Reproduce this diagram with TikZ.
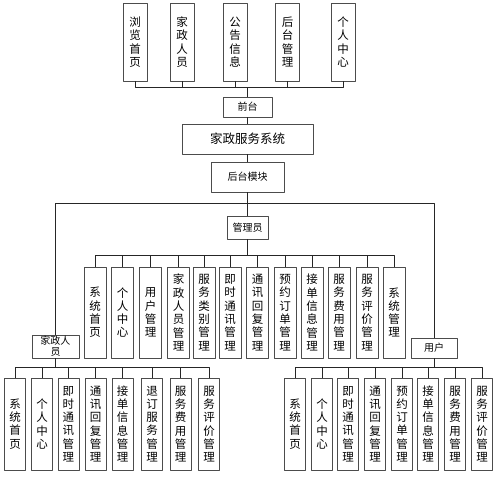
\documentclass[tikz,border=0pt]{standalone}
\usepackage{fontspec}
\setmainfont{Noto Sans CJK SC}
\tikzset{
  box/.style={draw=black!70,line width=.6pt,inner sep=0pt,align=center,fill=white},
  vbox/.style={box,minimum width=22pt,font=\fontsize{11.5}{13.3}\selectfont},
  hbox/.style={box,font=\fontsize{10}{11}\selectfont},
  link/.style={draw=black!85,line width=.7pt}
}
\begin{document}
\begin{tikzpicture}[x=1pt,y=-1pt,line join=round]
\useasboundingbox (0,0) rectangle (499,477);
% front end
\foreach \x/\t [count=\i] in {135/{浏\\览\\首\\页},182/{家\\政\\人\\员},235/{公\\告\\信\\息},
  287.5/{后\\台\\管\\理},343/{个\\人\\中\\心}}
  \node[vbox,minimum width=24pt,minimum height=78pt] (t\i) at (\x,42) {\t};
\node[hbox,minimum width=49pt,minimum height=20pt] (qt) at (247.5,107) {前台};
\node[box,minimum width=131pt,minimum height=30pt,font=\fontsize{12.5}{14}\selectfont] (sys) at (247.5,139) {家政服务系统};
\node[hbox,minimum width=73pt,minimum height=30pt] (ht) at (247.5,177) {后台模块};
\foreach \i in {1,...,5}
  \draw[link] (t\i.south) -- ++(0,6) -| (qt.north);
\draw[link] (qt.south) -- (sys.north);
\draw[link] (sys.south) -- (ht.north);
% roles
\node[hbox,minimum width=41pt,minimum height=23pt] (gly) at (247.5,227.5) {管理员};
\node[hbox,minimum width=47pt,minimum height=23pt] (jz) at (55.5,346.5) {家政人\\员};
\node[hbox,minimum width=46pt,minimum height=20pt] (yh) at (434,348) {用户};
\draw[link] (ht.south) -- (gly.north);
\draw[link] (ht.south) -- ++(0,11) -| (jz.north);
\draw[link] (ht.south) -- ++(0,11) -| (yh.north);
% admin
\foreach \x/\t [count=\i] in {95/{系\\统\\首\\页},122.5/{个\\人\\中\\心},150.5/{用\\户\\管\\理},
  178.5/{家\\政\\人\\员\\管\\理},204/{服\\务\\类\\别\\管\\理},230/{即\\时\\通\\讯\\管\\理},
  257.5/{通\\讯\\回\\复\\管\\理},285/{预\\约\\订\\单\\管\\理},312/{接\\单\\信\\息\\管\\理},
  339/{服\\务\\费\\用\\管\\理},367/{服\\务\\评\\价\\管\\理},394/{系\\统\\管\\理}}
{
  \node[vbox,minimum height=91pt] (a\i) at (\x,312.5) {\t};
  \draw[link] (gly.south) -- ++(0,16) -| (a\i.north);
}
% housekeeper
\foreach \x/\t [count=\i] in {15/{系\\统\\首\\页},42/{个\\人\\中\\心},68.5/{即\\时\\通\\讯\\管\\理},
  95.5/{通\\讯\\回\\复\\管\\理},122.5/{接\\单\\信\\息\\管\\理},152/{退\\订\\服\\务\\管\\理},
  180.5/{服\\务\\费\\用\\管\\理},209/{服\\务\\评\\价\\管\\理}}
{
  \node[vbox,minimum height=92pt,minimum width=21pt] (j\i) at (\x,424) {\t};
  \draw[link] (jz.south) -- ++(0,9) -| (j\i.north);
}
% user
\foreach \x/\t [count=\i] in {295/{系\\统\\首\\页},322/{个\\人\\中\\心},348/{即\\时\\通\\讯\\管\\理},
  375/{通\\讯\\回\\复\\管\\理},402/{预\\约\\订\\单\\管\\理},428/{接\\单\\信\\息\\管\\理},
  455/{服\\务\\费\\用\\管\\理},482/{服\\务\\评\\价\\管\\理}}
{
  \node[vbox,minimum height=92pt,minimum width=21pt] (u\i) at (\x,424) {\t};
  \draw[link] (yh.south) -- ++(0,9) -| (u\i.north);
}
\end{tikzpicture}
\end{document}
